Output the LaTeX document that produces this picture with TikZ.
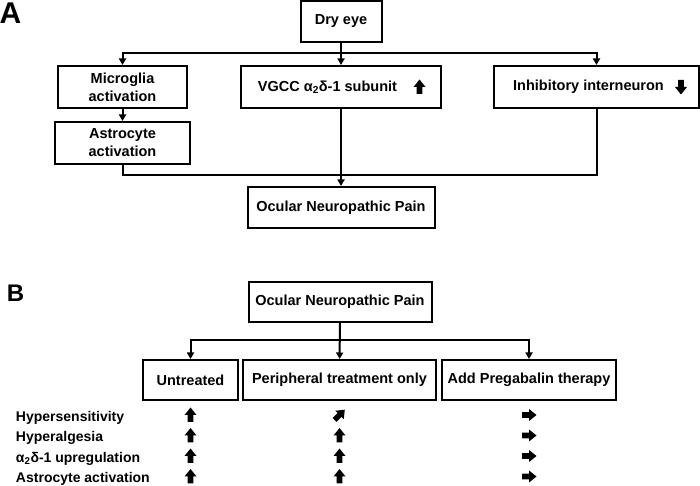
\documentclass[tikz,border=0pt]{standalone}
\usepackage{fontspec}
\setmainfont{Liberation Sans}
\usetikzlibrary{arrows.meta,calc}
\tikzset{>={Triangle[length=6.5pt,width=7pt]}}
\tikzset{
  box/.style={draw,line width=2pt,inner sep=0pt,align=center,
    font=\fontsize{14.5}{18}\selectfont\bfseries},
  rowlab/.style={anchor=base west,inner sep=0pt,font=\fontsize{14}{16}\selectfont\bfseries},
  panel/.style={inner sep=0pt,font=\fontsize{#1}{#1}\selectfont\bfseries},
  fatarrow/.pic={\fill (-2.8,-7)--(2.8,-7)--(2.8,0)--(6,0)--(0,7.5)--(-6,0)--(-2.8,0)--cycle;}
}

\begin{document}
\begin{tikzpicture}[x=1pt,y=1pt,line width=2pt]
\useasboundingbox (0,0) rectangle (700,486);
% panel A
\node[panel=30] (labA) at (10.5,472.5) {A};
\node[box,minimum width=81pt,minimum height=41pt] (dry) at (341,464.5) {Dry eye};
\node[box,minimum width=129pt,minimum height=42pt] (micro) at (122.5,399) {Microglia\\activation};
\node[box,minimum width=200pt,minimum height=42pt] (vgcc) at (341,399)
  {VGCC α\textsubscript{2}δ-1 subunit\makebox[27pt]{}};
\node[box,minimum width=205pt,minimum height=42pt] (inhib) at (596.5,399)
  {Inhibitory interneuron\makebox[16pt]{}};
\node[box,minimum width=135pt,minimum height=42pt] (astro) at (122.5,343) {Astrocyte\\activation};
\node[box,minimum width=187pt,minimum height=41pt] (ocA) at (341,278.5) {Ocular Neuropathic Pain};
\pic at ($(vgcc.east)+(-22.5,0)$) {fatarrow};
\pic[rotate=180] at ($(inhib.east)+(-19,0)$) {fatarrow};
\coordinate (splitA) at (341,433);
\coordinate (joinA) at (341,311);
\draw[->] (dry) -- (vgcc);
\draw[->] (splitA) -| (micro);
\draw[->] (splitA) -| (inhib);
\draw[->] (micro) -- (astro);
\draw (astro) |- (joinA);
\draw (inhib) |- (joinA);
\draw[->] (vgcc) -- (ocA);
% panel B
\node[panel=24] (labB) at (15.5,192.5) {B};
\node[box,minimum width=183pt,minimum height=40pt] (ocB) at (340,184) {Ocular Neuropathic Pain};
\node[box,minimum width=95pt,minimum height=40pt] (untr) at (190.5,106) {Untreated};
\node[box,minimum width=193pt,minimum height=40pt] (periph) at (339.5,106) {Peripheral treatment only};
\node[box,minimum width=174pt,minimum height=40pt] (pregab) at (529,106) {Add Pregabalin therapy};
\coordinate (splitB) at (340,146);
\draw[->] (ocB) -- (periph);
\draw[->] (splitB) -| (untr);
\draw[->] (splitB) -| (pregab);
\node[rowlab] (h1) at (15,64.5) {Hypersensitivity};
\node[rowlab] (h2) at (15,44) {Hyperalgesia};
\node[rowlab] (h3) at (15,23.5) {α\textsubscript{2}δ-1 upregulation};
\node[rowlab] (h4) at (15,3) {Astrocyte activation};
\foreach \r in {h1,h2,h3,h4}{
  \pic[yshift=6.5pt] at (untr |- \r.base) {fatarrow};
  \pic[yshift=6.5pt,rotate=-90] at (pregab |- \r.base) {fatarrow};
}
\pic[yshift=6.5pt,rotate=-45] at (periph |- h1.base) {fatarrow};
\foreach \r in {h2,h3,h4}
  \pic[yshift=6.5pt] at (periph |- \r.base) {fatarrow};
\end{tikzpicture}
\end{document}
